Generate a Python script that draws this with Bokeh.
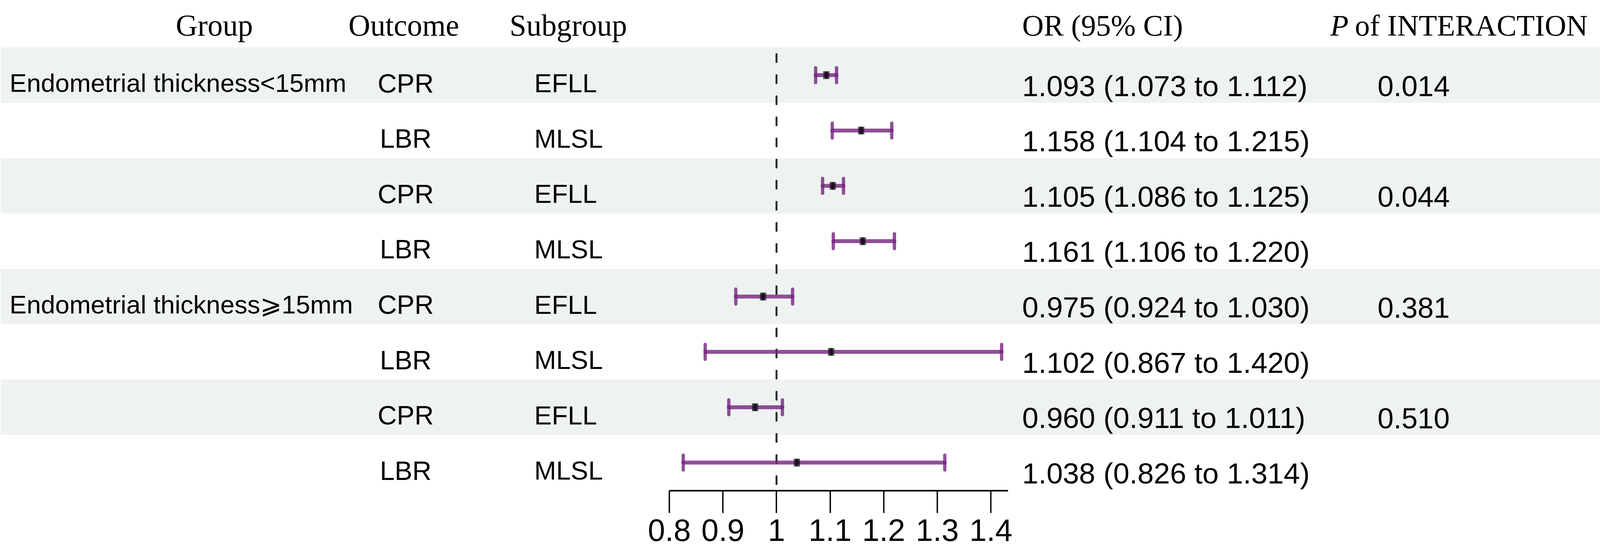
from bokeh.plotting import figure
from bokeh.models import Range1d, LinearAxis, FixedTicker, ColumnDataSource
from bokeh.core.properties import value
from bokeh.embed import file_html
from bokeh.resources import INLINE

# ---------------- data ----------------
groups = ["Endometrial thickness<15mm", "", "", "", "Endometrial thickness\u2a7e15mm", "", "", ""]
outcomes = ["CPR", "LBR", "CPR", "LBR", "CPR", "LBR", "CPR", "LBR"]
subgroups = ["EFLL", "MLSL", "EFLL", "MLSL", "EFLL", "MLSL", "EFLL", "MLSL"]
or_est = [1.093, 1.158, 1.105, 1.161, 0.975, 1.102, 0.960, 1.038]
ci_low = [1.073, 1.104, 1.086, 1.106, 0.924, 0.867, 0.911, 0.826]
ci_high = [1.112, 1.215, 1.125, 1.220, 1.030, 1.420, 1.011, 1.314]
p_interaction = ["0.014", "", "0.044", "", "0.381", "", "0.510", ""]
x_ticks = [0.8, 0.9, 1.0, 1.1, 1.2, 1.3, 1.4]
x_tick_labels = ["0.8", "0.9", "1", "1.1", "1.2", "1.3", "1.4"]
reference_or = 1.0

# ---------------- layout helpers ----------------
VIEW_W = 4117.0            # visible page width (css px)
SX = VIEW_W / 5152.0       # horizontal css px per reference pixel
K = 0.84                   # font scale
X_ONE = 2497.0             # reference pixel of OR = 1
PX_PER_UNIT = 1717.0
ROW0 = 58.2
ROW_H = 141.6


def xr(px):
    return 1.0 + (px - X_ONE) / PX_PER_UNIT


def yr(py):
    return (py - ROW0) / ROW_H


def fs(px, k=K):
    return value(f"{px * k:.1f}px")


W = int(round(VIEW_W)) - 16
FH = 1263 - 8
left_ref = 8 / SX
right_ref = (W + 8) / SX

rows = list(range(1, len(or_est) + 1))
or_text = [f"{o:.3f} ({l:.3f} to {h:.3f})" for o, l, h in zip(or_est, ci_low, ci_high)]

src = ColumnDataSource(dict(
    row=rows, grp=groups, out=outcomes, sub=subgroups, est=or_est, lo=ci_low, hi=ci_high,
    ortxt=or_text, pv=p_interaction,
    base_s=[r + 0.144 for r in rows], base_o=[r + 0.193 for r in rows], base_p=[r + 0.201 for r in rows],
    cap_t=[r - 0.134 for r in rows], cap_b=[r + 0.134 for r in rows],
))

p = figure(frame_width=W, frame_height=FH, min_border=0, min_border_bottom=149,
           output_backend="svg", toolbar_location=None,
           x_range=Range1d(xr(left_ref), xr(right_ref)), y_range=Range1d(yr(1263), yr(8)),
           x_axis_type=None, y_axis_type=None)
p.outline_line_color = None
p.xgrid.visible = False
p.ygrid.visible = False
p.background_fill_color = "white"
p.border_fill_color = "white"

# zebra bands
band_rows = [r for r in rows if r % 2 == 1]
p.quad(left=xr(12), right=xr(5146), top=[r - 0.5 for r in band_rows], bottom=[r + 0.5 for r in band_rows],
       fill_color="#EEF2F1", line_color=None)

SANS = value("Liberation Sans")
SERIF = value("Liberation Serif")

# headers
hb = yr(72.5)
hdr = dict(text_font=SERIF, text_baseline="alphabetic", text_color="black")
p.text(x=[xr(696)], y=[hb], text=["Group"], text_font_size=fs(92), text_align="center", **hdr)
p.text(x=[xr(1303)], y=[hb], text=["Outcome"], text_font_size=fs(92), text_align="center", **hdr)
p.text(x=[xr(1830)], y=[hb], text=["Subgroup"], text_font_size=fs(92), text_align="center", **hdr)
p.text(x=[xr(3284)], y=[hb], text=["OR (95% CI)"], text_font_size=fs(91), text_align="left", **hdr)
p.text(x=[xr(4271)], y=[hb], text=["P"], text_font_size=fs(91), text_font_style="italic",
       text_align="left", **hdr)
p.text(x=[xr(4350)], y=[hb], text=["of INTERACTION"], text_font_size=fs(91), text_align="left", **hdr)

# table columns
cell = dict(source=src, text_font=SANS, text_baseline="alphabetic", text_color="black")
p.text(x=xr(40), y="base_s", text="grp", text_font_size=fs(81, 0.81), text_align="left", **cell)
p.text(x=xr(1309), y="base_s", text="out", text_font_size=fs(81), text_align="center", **cell)
p.text(x=xr(1721), y="base_s", text="sub", text_font_size=fs(80), text_align="left", **cell)
p.text(x=xr(3284), y="base_o", text="ortxt", text_font_size=fs(89), text_align="left", **cell)
p.text(x=xr(4538), y="base_p", text="pv", text_font_size=fs(88), text_align="center", **cell)

# reference line
p.segment(x0=[reference_or], y0=[yr(146)], x1=[reference_or], y1=[yr(1250)],
          line_color="#2b2b2b", line_width=5, line_dash="20 34", line_cap="round")

# error bars
PURPLE = "#74237F"
p.segment(x0="lo", y0="row", x1="hi", y1="row", source=src, line_color=PURPLE, line_alpha=0.8,
          line_width=10, line_cap="round")
cap = dict(source=src, line_color=PURPLE, line_alpha=0.8, line_width=8.5, line_cap="round")
p.segment(x0="lo", y0="cap_t", x1="lo", y1="cap_b", **cap)
p.segment(x0="hi", y0="cap_t", x1="hi", y1="cap_b", **cap)

# point estimates
p.rect(x="est", y="row", source=src, width=16, height=20, width_units="screen", height_units="screen",
       fill_color="#2a2a2a", fill_alpha=0.8, line_color=None)
p.ellipse(x="est", y="row", source=src, width=10, height=20, width_units="screen",
          height_units="screen", fill_color="#1a0820", fill_alpha=0.85, line_color=None)

# axis
ax = LinearAxis(ticker=FixedTicker(ticks=x_ticks), bounds=(0.8, xr(3238)))
ax.major_label_overrides = {t: l for t, l in zip(x_ticks, x_tick_labels)}
ax.axis_line_width = 4
ax.axis_line_color = "black"
ax.major_tick_line_width = 3.5
ax.major_tick_line_color = "black"
ax.major_tick_in = 0
ax.major_tick_out = 57
ax.minor_tick_line_color = None
ax.major_label_standoff = 16
ax.major_label_text_font = "Liberation Sans"
ax.major_label_text_font_size = f"{90 * 0.88:.1f}px"
ax.major_label_text_color = "black"
p.add_layout(ax, "below")

open("out.html", "w").write(file_html(p, INLINE))
